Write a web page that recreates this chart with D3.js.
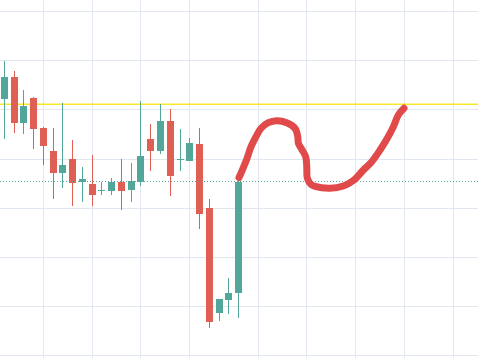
<!DOCTYPE html>
<html>
<head>
<meta charset="utf-8">
<script src="https://cdn.jsdelivr.net/npm/d3@7"></script>
<style>
html,body{margin:0;padding:0;background:#ffffff;overflow:hidden;}
svg{display:block;}
</style>
</head>
<body>
<svg id="chart" width="478" height="358"></svg>
<script>
// ---- data ----
const opens  = [111.14,113.34,108.70,111.21,108.16,105.82,103.62,105.01,102.70,102.47,101.81,101.79,102.67,101.89,102.67,107.04,105.85,108.87,104.96,104.84,106.53,100.03,89.39,90.71,91.42];
const highs  = [114.97,113.95,112.02,111.31,108.26,108.16,110.70,106.94,104.20,105.42,102.67,103.08,105.01,104.60,110.90,108.60,110.60,110.09,108.06,107.14,108.16,100.98,90.75,92.92,102.95];
const lows   = [107.07,107.68,107.58,106.06,104.43,100.98,102.09,100.26,100.67,100.26,101.38,101.38,99.86,100.67,102.30,103.82,105.55,101.28,103.82,104.84,97.93,87.87,88.58,89.29,88.88];
const closes = [113.34,108.70,110.40,108.06,106.36,103.62,104.40,102.60,102.98,101.38,101.86,102.67,101.79,102.80,105.31,105.85,108.87,103.31,105.01,106.64,99.45,88.48,90.75,91.42,102.70];

// grid ticks (bar indices and price levels)
const timeTicks  = [4, 9, 14, 19, 26, 31, 36, 41, 46];
const priceTicks = [120, 115, 110, 105, 100, 95, 90, 85];

// horizontal drawn level
const levelPrice = [110.57];

// freehand drawing: bar index / price pairs
const drawIdx   = [24.04,24.38,24.83,25.27,25.75,26.30,27.04,27.90,28.93,29.78,30.06,30.12,30.46,30.87,30.98,31.04,31.42,31.83,33.36,34.73,35.75,36.78,37.64,38.49,39.23,39.85,40.36,40.94];
const drawPrice = [103.13,103.89,104.98,106.26,107.22,108.13,108.70,108.90,108.70,108.13,107.28,106.61,106.00,105.24,104.23,103.05,102.42,102.22,102.03,102.27,102.82,103.89,104.74,105.92,107.11,108.29,109.48,110.16];

// ---- chart ----
const W = 478, H = 358;
const svg = d3.select("#chart");
const x = d3.scaleLinear().domain([-0.44, 48.52]).range([0, W]);
const y = d3.scaleLinear().domain([120, 85]).range([11.5, 355.9]);

const UP = "#53a69a", DOWN = "#e05f55";
const crisp = v => Math.round(v - 0.5) + 0.5;

// grid
const grid = svg.append("g");
grid.selectAll("line.v").data(timeTicks).join("line")
  .attr("x1", d => crisp(x(d))).attr("x2", d => crisp(x(d)))
  .attr("y1", 0).attr("y2", H)
  .attr("stroke", "#e0e7ef").attr("stroke-width", 1);
grid.selectAll("line.h").data(priceTicks).join("line")
  .attr("x1", 0).attr("x2", W)
  .attr("y1", d => crisp(y(d))).attr("y2", d => crisp(y(d)))
  .attr("stroke", "#e0e7ef").attr("stroke-width", 1);

// level line
svg.selectAll("line.level").data(levelPrice).join("line")
  .attr("x1", 0).attr("x2", W)
  .attr("y1", d => y(d)).attr("y2", d => y(d))
  .attr("stroke", "#f9e72c").attr("stroke-width", 1.4);

// candles
const bars = d3.range(opens.length).map(i => ({i, o: opens[i], h: highs[i], l: lows[i], c: closes[i]}));
const cg = svg.append("g");
const cand = cg.selectAll("g").data(bars).join("g");
cand.append("line")
  .attr("x1", d => Math.floor(x(d.i)) + 0.5).attr("x2", d => Math.floor(x(d.i)) + 0.5)
  .attr("y1", d => Math.round(y(d.h))).attr("y2", d => Math.round(y(d.l)))
  .attr("stroke", d => d.c >= d.o ? UP : DOWN).attr("stroke-width", 1);
cand.append("rect")
  .attr("x", d => Math.floor(x(d.i)) - 3)
  .attr("width", 7)
  .attr("y", d => Math.round(y(Math.max(d.o, d.c))))
  .attr("height", d => Math.max(1, Math.round(y(Math.min(d.o, d.c))) - Math.round(y(Math.max(d.o, d.c)))))
  .attr("fill", d => d.c >= d.o ? UP : DOWN);

// last price dotted line
const lastClose = closes[closes.length - 1];
svg.append("line")
  .attr("x1", 0).attr("x2", W)
  .attr("y1", crisp(y(lastClose))).attr("y2", crisp(y(lastClose)))
  .attr("stroke", UP).attr("stroke-width", 1)
  .attr("stroke-dasharray", "1,2");

// freehand drawing
const pts = drawIdx.map((d, k) => [d, drawPrice[k]]);
const line = d3.line().x(d => x(d[0])).y(d => y(d[1])).curve(d3.curveCatmullRom.alpha(0.5));
svg.append("path")
  .attr("d", line(pts))
  .attr("fill", "none")
  .attr("stroke", "#e04a4a")
  .attr("stroke-width", 7)
  .attr("stroke-linecap", "round")
  .attr("stroke-linejoin", "round");
</script>
</body>
</html>
